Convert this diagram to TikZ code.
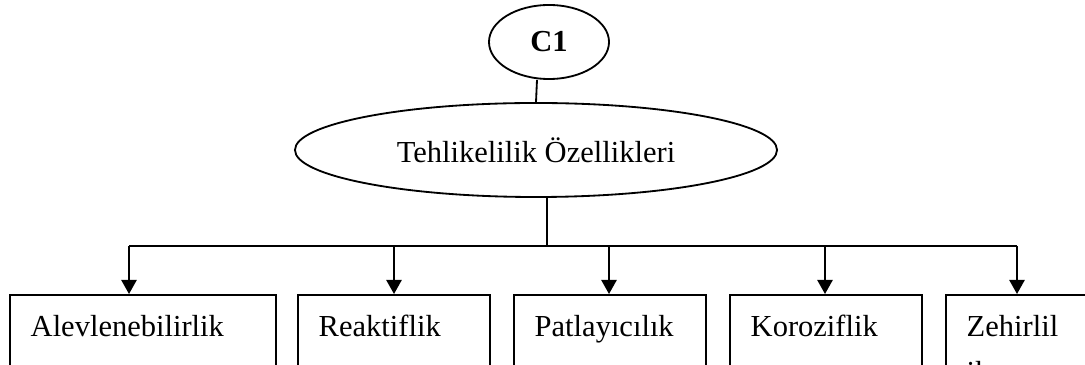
\documentclass[tikz,border=0pt]{standalone}
\usepackage{fontspec}
\setmainfont{Liberation Serif}
\usepackage{tikz}
\usetikzlibrary{shapes, arrows.meta, positioning, calc}

\begin{document}
\begin{tikzpicture}[x=0.025cm, y=-0.025cm,
  bigfont/.style={font=\fontsize{21.7pt}{27.7pt}\selectfont},
  oval/.style={draw, ellipse, line width=1.3pt, inner sep=0pt, bigfont},
  box/.style={draw, rectangle, line width=1.3pt, anchor=north west, align=left,
    inner xsep=0.52cm, inner ysep=0.3cm, text height=0.73cm, text depth=3cm, bigfont},
  arrow/.style={-{Triangle[length=0.35cm, width=0.38cm]}, line width=1.3pt},
  link/.style={line width=1.3pt}
]
  \useasboundingbox (0,0) rectangle (1085,365);

  % Top of the tree
  \node[oval, minimum width=3cm, minimum height=1.85cm] (c1) at (549, 42) {\textbf{C1}};
  \node[oval, minimum width=12.05cm, minimum height=2.35cm] (ozellik) at (536, 150)
    {Tehlikelilik Özellikleri};
  \draw[link] ([xshift=-0.3cm]c1.south) -- (ozellik.north);

  % Property boxes
  \node[box, text width=5.6cm] (alev) at (9, 294) {Alevlenebilirlik};
  \node[box, text width=3.76cm] (reak) at (297, 294) {Reaktiflik};
  \node[box, text width=3.76cm] (patl) at (513, 294) {Patlayıcılık};
  \node[box, text width=3.76cm] (koro) at (729, 294) {Koroziflik};
  \node[box, text width=5cm] (zehir) at (945, 294) {Zehirlil\\[5pt]ik};

  % Bus line and arrows
  \coordinate (bus) at (547, 246);
  \coordinate (busL) at (129, 246);
  \coordinate (busR) at (1017, 246);
  \draw[link] (bus |- ozellik.south) -- (bus);
  \draw[link] (busL) -- (busR);
  \foreach \n/\x in {alev/129, reak/394, patl/609, koro/825, zehir/1017}
    \draw[arrow] (\x,246) -- (\x,246 |- \n.north);
\end{tikzpicture}
\end{document}
